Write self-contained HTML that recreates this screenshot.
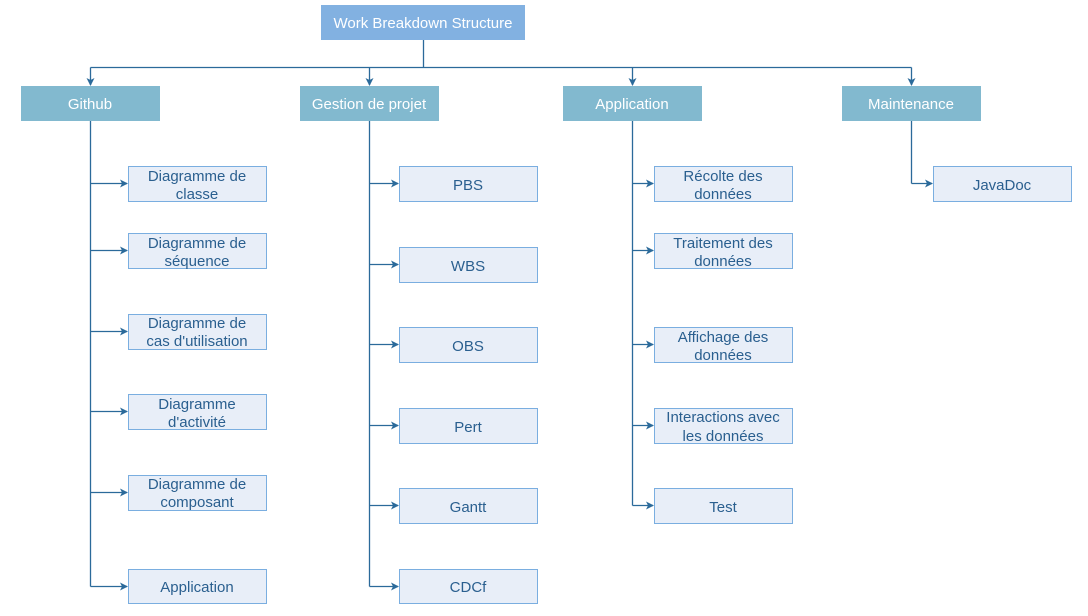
<!DOCTYPE html>
<html><head><meta charset="utf-8"><style>
html,body{margin:0;padding:0;background:#fff;width:1088px;height:616px;overflow:hidden}
svg text{font-family:"Liberation Sans",sans-serif;font-size:15px;text-anchor:middle}
</style></head><body>
<svg width="1088" height="616" viewBox="0 0 1088 616" xmlns="http://www.w3.org/2000/svg">
<defs><marker id="a" markerWidth="8" markerHeight="8" refX="7" refY="4" orient="auto" markerUnits="userSpaceOnUse"><path d="M0,0 L8,4 L0,8 L2,4 z" fill="#2b6a9a"/></marker></defs>
<g stroke="#2b6a9a" stroke-width="1.3" fill="none">
<path d="M423.5 40 V67.5 M90.5 67.5 H911.5"/>
<path d="M90.5 67.5 V85" marker-end="url(#a)"/>
<path d="M369.5 67.5 V85" marker-end="url(#a)"/>
<path d="M632.5 67.5 V85" marker-end="url(#a)"/>
<path d="M911.5 67.5 V85" marker-end="url(#a)"/>
<path d="M90.5 120 V586.5 M369.5 120 V586.5 M632.5 120 V505.5 M911.5 120 V183.5"/>
<path d="M90.5 183.5 H127" marker-end="url(#a)"/>
<path d="M90.5 250.5 H127" marker-end="url(#a)"/>
<path d="M90.5 331.5 H127" marker-end="url(#a)"/>
<path d="M90.5 411.5 H127" marker-end="url(#a)"/>
<path d="M90.5 492.5 H127" marker-end="url(#a)"/>
<path d="M90.5 586.5 H127" marker-end="url(#a)"/>
<path d="M369.5 183.5 H398" marker-end="url(#a)"/>
<path d="M369.5 264.5 H398" marker-end="url(#a)"/>
<path d="M369.5 344.5 H398" marker-end="url(#a)"/>
<path d="M369.5 425.5 H398" marker-end="url(#a)"/>
<path d="M369.5 505.5 H398" marker-end="url(#a)"/>
<path d="M369.5 586.5 H398" marker-end="url(#a)"/>
<path d="M632.5 183.5 H653" marker-end="url(#a)"/>
<path d="M632.5 250.5 H653" marker-end="url(#a)"/>
<path d="M632.5 344.5 H653" marker-end="url(#a)"/>
<path d="M632.5 425.5 H653" marker-end="url(#a)"/>
<path d="M632.5 505.5 H653" marker-end="url(#a)"/>
<path d="M911.5 183.5 H932" marker-end="url(#a)"/>
</g>
<rect x="321" y="5" width="204" height="35" fill="#82b1e1"/>
<text x="423" y="28" fill="#fff">Work Breakdown Structure</text>
<g fill="#82b9cf">
<rect x="21" y="86" width="139" height="35"/><rect x="300" y="86" width="139" height="35"/>
<rect x="563" y="86" width="139" height="35"/><rect x="842" y="86" width="139" height="35"/>
</g>
<g fill="#fff">
<text x="90" y="109">Github</text><text x="369" y="109">Gestion de projet</text>
<text x="632" y="109">Application</text><text x="911" y="109">Maintenance</text>
</g>
<g fill="#e8eef8" stroke="#7aaee0" stroke-width="1">
<rect x="128.5" y="166.5" width="138" height="35"/><rect x="128.5" y="233.5" width="138" height="35"/>
<rect x="128.5" y="314.5" width="138" height="35"/><rect x="128.5" y="394.5" width="138" height="35"/>
<rect x="128.5" y="475.5" width="138" height="35"/><rect x="128.5" y="569.5" width="138" height="34"/>
<rect x="399.5" y="166.5" width="138" height="35"/><rect x="399.5" y="247.5" width="138" height="35"/>
<rect x="399.5" y="327.5" width="138" height="35"/><rect x="399.5" y="408.5" width="138" height="35"/>
<rect x="399.5" y="488.5" width="138" height="35"/><rect x="399.5" y="569.5" width="138" height="34"/>
<rect x="654.5" y="166.5" width="138" height="35"/><rect x="654.5" y="233.5" width="138" height="35"/>
<rect x="654.5" y="327.5" width="138" height="35"/><rect x="654.5" y="408.5" width="138" height="35"/>
<rect x="654.5" y="488.5" width="138" height="35"/>
<rect x="933.5" y="166.5" width="138" height="35"/>
</g>
<g fill="#2a5f8f">
<text x="197" y="181">Diagramme de</text><text x="197" y="199">classe</text>
<text x="197" y="248">Diagramme de</text><text x="197" y="266">séquence</text>
<text x="197" y="328">Diagramme de</text><text x="197" y="346">cas d'utilisation</text>
<text x="197" y="409">Diagramme</text><text x="197" y="427">d'activité</text>
<text x="197" y="489">Diagramme de</text><text x="197" y="507">composant</text>
<text x="197" y="592">Application</text>
<text x="468" y="190">PBS</text><text x="468" y="271">WBS</text><text x="468" y="351">OBS</text>
<text x="468" y="432">Pert</text><text x="468" y="512">Gantt</text><text x="468" y="592">CDCf</text>
<text x="723" y="181">Récolte des</text><text x="723" y="199">données</text>
<text x="723" y="248">Traitement des</text><text x="723" y="266">données</text>
<text x="723" y="342">Affichage des</text><text x="723" y="360">données</text>
<text x="723" y="422">Interactions avec</text><text x="723" y="441">les données</text>
<text x="723" y="512">Test</text>
<text x="1002" y="190">JavaDoc</text>
</g>
</svg>
</body></html>
